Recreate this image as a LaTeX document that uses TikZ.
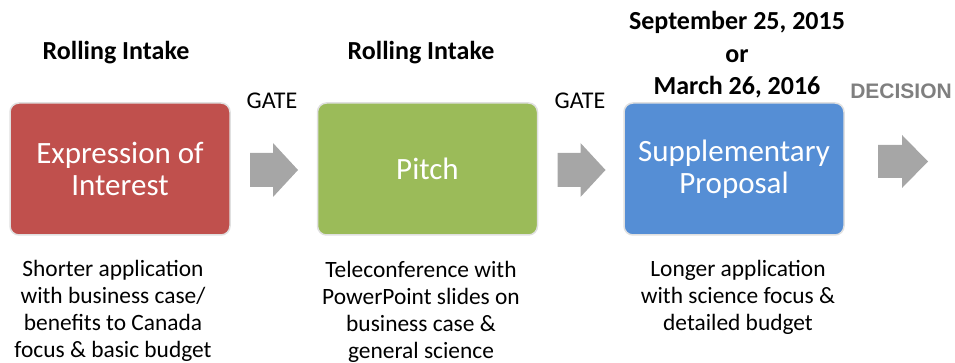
\documentclass[tikz,border=0pt]{standalone}
\usepackage{fontspec}
\setmainfont{Carlito}
\newfontfamily\arialfont{Liberation Sans}
\definecolor{eoired}{HTML}{C0504D}
\definecolor{pitchgreen}{HTML}{9BBB59}
\definecolor{propblue}{HTML}{558ED5}
\definecolor{arrowgray}{HTML}{A6A6A6}
\definecolor{decgray}{HTML}{7F7F7F}
\tikzset{
  stagebox/.style={rectangle, rounded corners=9pt, minimum width=220pt, minimum height=132pt,
    draw=black!12, line width=1.5pt, text=white, align=center,
    font=\fontsize{31}{32}\selectfont},
  gatearrow/.style={fill=arrowgray, draw=none},
  headlabel/.style={font=\fontsize{26}{32.5}\selectfont\bfseries, align=center},
  gatelabel/.style={font=\fontsize{24}{26}\selectfont},
  desc/.style={font=\fontsize{23.4}{27}\selectfont, align=center, anchor=north}
}
\begin{document}
\begin{tikzpicture}[x=1pt,y=-1pt]
\useasboundingbox (0,0) rectangle (955,363);
\node[stagebox, fill=eoired] (eoi) at (120,169) {Expression of\\Interest};
\node[stagebox, fill=pitchgreen] (pitch) at (427.5,169) {Pitch};
\node[stagebox, fill=propblue] (prop) at (734,169) {Supplementary\\Proposal};
% block arrows
\fill[gatearrow] (250,153) -- (273,153) -- (273,143) -- (298,170) -- (273,197) -- (273,187) -- (250,187) -- cycle;
\fill[gatearrow] (557.5,153) -- (580.5,153) -- (580.5,143) -- (605.5,170) -- (580.5,197) -- (580.5,187) -- (557.5,187) -- cycle;
\fill[gatearrow] (878,145) -- (902,145) -- (902,135) -- (928,161.5) -- (902,188) -- (902,178) -- (878,178) -- cycle;
\node[headlabel] (h1) at (116,53) {Rolling Intake};
\node[headlabel] (h2) at (421,53) {Rolling Intake};
\node[headlabel] (h3) at (737,55) {September 25, 2015\\or\\March 26, 2016};
\node[gatelabel] (g1) at (272,101) {GATE};
\node[gatelabel] (g2) at (580,101) {GATE};
\node[font=\arialfont\fontsize{21}{24}\selectfont\bfseries, text=decgray] (dec) at (901,91) {DECISION};
\node[desc] (d1) at (113,257) {Shorter application\\with business case/\\benefits to Canada\\focus \& basic budget};
\node[desc] (d2) at (421,258) {Teleconference with\\PowerPoint slides on\\business case \&\\general science};
\node[desc] (d3) at (738,257) {Longer application\\with science focus \&\\detailed budget};
\end{tikzpicture}
\end{document}
